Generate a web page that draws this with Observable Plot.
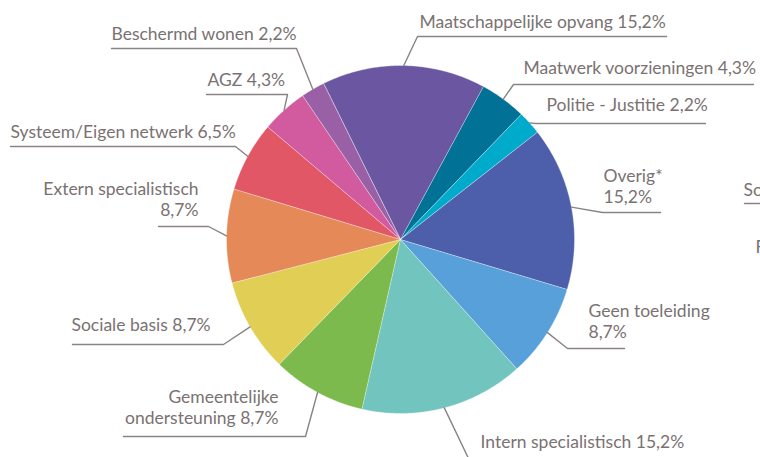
<!DOCTYPE html>
<html>
<head>
<meta charset="utf-8">
<script src="https://cdn.jsdelivr.net/npm/d3@7"></script>
<script src="https://cdn.jsdelivr.net/npm/@observablehq/plot@0.6"></script>
<style>
  html, body { margin: 0; padding: 0; background: #ffffff; }
  #chart { width: 760px; height: 457px; overflow: hidden; }
</style>
</head>
<body>
<div id="chart"></div>
<script>
// ---- data ----
const categories = [
  "Maatschappelijke opvang", "Maatwerk voorzieningen", "Politie - Justitie", "Overig*",
  "Geen toeleiding", "Intern specialistisch", "Gemeentelijke ondersteuning", "Sociale basis",
  "Extern specialistisch", "Systeem/Eigen netwerk", "AGZ", "Beschermd wonen"
];
const shares = [15.2, 4.3, 2.2, 15.2, 8.7, 15.2, 8.7, 8.7, 8.7, 6.5, 4.3, 2.2];
const colors = [
  "#6b57a1", "#017196", "#00aacb", "#4d5fab",
  "#58a0d9", "#72c4bf", "#7dba4e", "#e1ce54",
  "#e48957", "#e25766", "#d25b9f", "#9960a6"
];
// where each label wraps: "none", "value" (before the value), "name" (after the first word)
const labelWrap = ["none", "none", "none", "value", "value", "none", "name", "none", "value", "none", "none", "none"];
// neighbouring chart, cut off at the right edge (only these letters are visible)
const sideLabels = ["So", "F"];

// ---- layout ----
const W = 760, H = 457;
const cx = 400, cy = 239, R = 174;
const startAngle = -26.3; // degrees, clockwise from 12 o'clock
const labelX   = [419, 523, 546, 603, 588, 480, 278, 71, 198, 10, 207, 111];
const labelY   = [27, 73, 110, 202, 337, 447, 423, 330, 215, 137, 85, 39];
const anchor   = ["start","start","start","start","start","start","end","start","end","start","start","start"];
const underY   = [36, 84, 123, 212, 348, 460, 436, 344, 226, 146, 94, 48];
const kneeX    = [417, 513, 535, 602, 567, 469, 305, 223, 208, 235, 287, 296];
const farX     = [666, 753, 705, 660, 624, 690, 123, 72, 158, 10, 206, 111];
const sideX = [743, 755], sideY = [195, 252];
const sideUnder = {y: 203, x0: 744, x1: 800};

const fmt = v => v.toFixed(1).replace(".", ",");
const total = d3.sum(shares);
const toRad = a => a * Math.PI / 180;
const px = (a, r) => cx + r * Math.sin(toRad(a));
const py = (a, r) => cy - r * Math.cos(toRad(a));

// slices
let acc = startAngle;
const slices = categories.map((c, i) => {
  const a0 = acc, a1 = acc + shares[i] / total * 360;
  acc = a1;
  const pts = [{x: cx, y: cy}];
  const n = Math.max(2, Math.ceil((a1 - a0) / 0.5));
  for (let k = 0; k <= n; k++) {
    const a = a0 + (a1 - a0) * k / n;
    pts.push({x: px(a, R), y: py(a, R)});
  }
  return {name: c, color: colors[i], pts, mid: (a0 + a1) / 2};
});

// leaders
const leaders = [];
slices.forEach((s, i) => {
  leaders.push({id: i, x: px(s.mid, R), y: py(s.mid, R)});
  leaders.push({id: i, x: kneeX[i], y: underY[i]});
  leaders.push({id: i, x: farX[i], y: underY[i]});
});

const labelText = (c, i) => {
  const v = fmt(shares[i]) + "%";
  if (labelWrap[i] === "value") return c + "\n" + v;
  if (labelWrap[i] === "name") return c.replace(" ", "\n") + " " + v;
  return c + " " + v;
};
const labels = categories.map((c, i) => ({
  text: labelText(c, i), x: labelX[i], y: labelY[i], anchor: anchor[i]
}));
const side = sideLabels.map((t, i) => ({text: t, x: sideX[i], y: sideY[i]}));

const textColor = "#7a7272";
const lineColor = "#8a8383";
const font = "Lato, 'Source Sans Pro', sans-serif";

const marks = [];
slices.forEach(s => {
  marks.push(Plot.line(s.pts, {x: "x", y: "y", fill: s.color, stroke: "#ffffff",
    strokeWidth: 0.6, strokeOpacity: 0.6, curve: "linear-closed"}));
});
marks.push(Plot.line(leaders, {x: "x", y: "y", z: "id", stroke: lineColor, strokeWidth: 1.4}));
["start", "end"].forEach(a => {
  marks.push(Plot.text(labels.filter(d => d.anchor === a), {
    x: "x", y: "y", text: "text", textAnchor: a, lineAnchor: "bottom",
    lineHeight: 1.2, fontSize: 17.5, fontFamily: font, fill: textColor
  }));
});
marks.push(Plot.text(side, {x: "x", y: "y", text: "text", textAnchor: "start", lineAnchor: "bottom",
  fontSize: 17.5, fontFamily: font, fill: textColor}));
marks.push(Plot.line([{x: sideUnder.x0, y: sideUnder.y}, {x: sideUnder.x1, y: sideUnder.y}],
  {x: "x", y: "y", stroke: lineColor, strokeWidth: 1.4}));

const chart = Plot.plot({
  width: W, height: H,
  marginTop: 0, marginRight: 0, marginBottom: 0, marginLeft: 0,
  x: {domain: [0, W], range: [0, W], axis: null},
  y: {domain: [0, H], range: [0, H], axis: null},
  style: {background: "#ffffff", overflow: "hidden"},
  marks
});
document.getElementById("chart").appendChild(chart);
</script>
</body>
</html>
